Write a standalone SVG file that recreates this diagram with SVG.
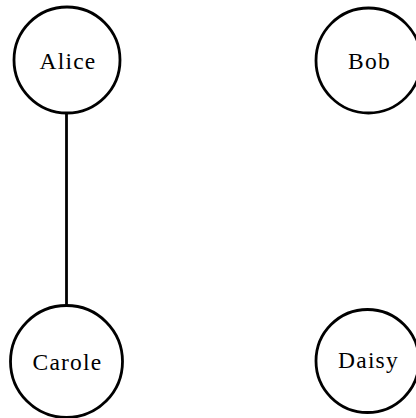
<svg xmlns="http://www.w3.org/2000/svg" width="416" height="418" viewBox="0 0 416 418">
  <style>
    .node circle { fill: #ffffff; stroke: #000000; stroke-width: 2.8; }
    .node text { font-family: "Liberation Serif", "DejaVu Serif", serif; font-size: 23.5px; fill: #000000; text-anchor: middle; dominant-baseline: central; letter-spacing: 1.2px; }
    .edge { stroke: #000000; stroke-width: 2.8; fill: none; }
  </style>
  <rect width="416" height="418" fill="#ffffff"/>
  <g id="connectors">
    <line class="edge" x1="66.5" y1="113" x2="66.5" y2="305"/>
  </g>
  <g id="alice" class="node">
    <circle cx="67" cy="60" r="53"/>
    <text x="68" y="61">Alice</text>
  </g>
  <g id="bob" class="node">
    <circle cx="368.5" cy="60.5" r="52.5"/>
    <text x="369.5" y="61">Bob</text>
  </g>
  <g id="carole" class="node">
    <circle cx="66.5" cy="361.5" r="56"/>
    <text x="67.5" y="362">Carole</text>
  </g>
  <g id="daisy" class="node">
    <circle cx="367.5" cy="361" r="51.5"/>
    <text x="368.5" y="360">Daisy</text>
  </g>
</svg>
